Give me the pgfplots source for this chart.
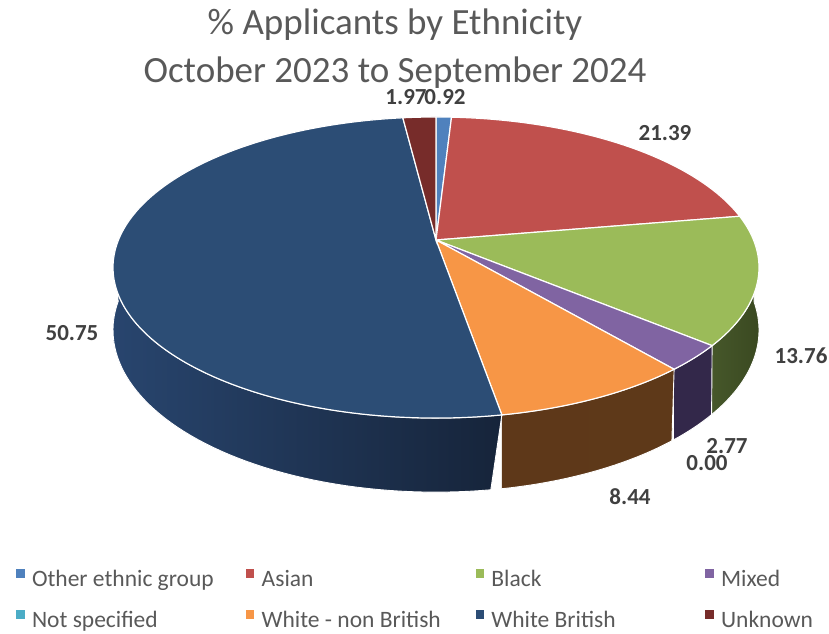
\documentclass[border=0pt]{standalone}
\usepackage{pgfplots}
\usepackage{pgfplotstable}
\pgfplotsset{compat=1.18}
\usepackage{fontspec}
\setmainfont{Carlito}
\definecolor{textgray}{HTML}{595959}
\definecolor{labgray}{HTML}{404040}
\definecolor{cOther}{HTML}{4F81BD}
\definecolor{cAsian}{HTML}{C0504D}
\definecolor{cBlack}{HTML}{9BBB59}
\definecolor{cMixed}{HTML}{8064A2}
\definecolor{cNotSpec}{HTML}{4BACC6}
\definecolor{cWNB}{HTML}{F79646}
\definecolor{cWB}{HTML}{2C4D75}
\definecolor{cUnknown}{HTML}{772C2A}
% darker side colours
\definecolor{rWBl}{HTML}{28456E}
\definecolor{rWBr}{HTML}{16243A}
\definecolor{rWNBl}{HTML}{5E3819}
\definecolor{rWNBm}{HTML}{6C4320}
\definecolor{rWNBr}{HTML}{5E3919}
\definecolor{rMixed}{HTML}{33284A}
\definecolor{rBlackl}{HTML}{46572A}
\definecolor{rBlackr}{HTML}{3A4921}

% percentages, October 2023 to September 2024
\pgfplotstableread{
lab value
Other 0.92
Asian 21.39
Black 13.76
Mixed 2.77
NotSpecified 0.00
WhiteNonBritish 8.44
WhiteBritish 50.75
Unknown 1.97
}\pietable

% cumulative angles (start at 12 o'clock, clockwise)
\xdef\cumsum{0}%
\xdef\aA{90}%
\foreach \i/\n in {0/B,1/C,2/D,3/E,4/F,5/G,6/H,7/I}{%
  \pgfplotstablegetelem{\i}{value}\of\pietable
  \pgfmathsetmacro\tmp{\cumsum+\pgfplotsretval}%
  \xdef\cumsum{\tmp}%
  \pgfmathsetmacro\tmp{90-3.6*\cumsum}%
  \expandafter\xdef\csname a\n\endcsname{\tmp}%
}%

\pgfplotstableread{
x y lab
445 97 0.92
665 133 21.39
801 356 13.76
727 446 2.77
707 463 0.00
630 497 8.44
72 333 50.75
406 97 1.97
}\labtable

\begin{document}
\begin{tikzpicture}
\useasboundingbox (0,0) rectangle (829pt,633pt);
\begin{axis}[
  at={(0,0)}, anchor=south west,
  width=829pt, height=633pt, scale only axis,
  xmin=0, xmax=829, ymin=0, ymax=633, y dir=reverse,
  hide axis, clip=false,
  declare function={
    px(\t)=436+1737*cos(\t)/(5.47+sin(\t));
    py(\t)=240-796*sin(\t)/(5.47+sin(\t));
    pb(\t)=240+(331-796*sin(\t))/(5.47+sin(\t));
    ra(\s,\a,\b)=(\s<1.0001) ? (\a+\s*(\b-\a)) : (\b-(\s-1)*(\b-\a));
  },
  legend columns=4,
  legend cell align=left,
  legend style={draw=none, fill=none, inner sep=0pt,
    at={(0.0192,0.0065)}, anchor=south west,
    font=\fontsize{23.5}{28}\selectfont, text=textgray,
    nodes={inner sep=0pt},
    row sep=22pt,
    /tikz/every odd column/.append style={column sep=8pt}},
  rim/.style={draw=white, line width=0.9pt, domain=0:2, samples=121, forget plot},
  top/.style={draw=white, line width=1.2pt, samples=60, forget plot},
]
% ---- sides (front half only) ----
\addplot[rim, left color=rBlackl, right color=rBlackr]
  ({px(ra(x,\aD,0))},{(x<1.0001) ? py(ra(x,\aD,0)) : pb(ra(x,\aD,0))});
\addplot[rim, fill=rMixed]
  ({px(ra(x,\aE,\aD))},{(x<1.0001) ? py(ra(x,\aE,\aD)) : pb(ra(x,\aE,\aD))});
\addplot[rim, left color=rWNBl, middle color=rWNBm, right color=rWNBr]
  ({px(ra(x,\aG,\aF))},{(x<1.0001) ? py(ra(x,\aG,\aF)) : pb(ra(x,\aG,\aF))});
\addplot[rim, left color=rWBl, right color=rWBr]
  ({px(ra(x,-180,\aG))},{(x<1.0001) ? py(ra(x,-180,\aG)) : pb(ra(x,-180,\aG))});
% ---- top faces ----
\addplot[top, fill=cOther, domain=\aB:\aA] ({px(x)},{py(x)}) -- (axis cs:436,240) -- cycle;
\addplot[top, fill=cAsian, domain=\aC:\aB] ({px(x)},{py(x)}) -- (axis cs:436,240) -- cycle;
\addplot[top, fill=cBlack, domain=\aD:\aC] ({px(x)},{py(x)}) -- (axis cs:436,240) -- cycle;
\addplot[top, fill=cMixed, domain=\aE:\aD] ({px(x)},{py(x)}) -- (axis cs:436,240) -- cycle;
% Not specified = 0.00 : no area
\addplot[top, fill=cWNB, domain=\aG:\aF] ({px(x)},{py(x)}) -- (axis cs:436,240) -- cycle;
\addplot[top, fill=cWB, domain=\aH:\aG, samples=150] ({px(x)},{py(x)}) -- (axis cs:436,240) -- cycle;
\addplot[top, fill=cUnknown, domain=\aI:\aH] ({px(x)},{py(x)}) -- (axis cs:436,240) -- cycle;
% ---- data labels ----
\addplot[draw=none, mark=none, forget plot, nodes near coords, point meta=explicit symbolic,
  nodes near coords style={anchor=center, text=labgray, font=\bfseries\fontsize{23}{28}\selectfont}]
  table[x=x, y=y, meta=lab] {\labtable};
% ---- title ----
\node[anchor=base, text=textgray, font=\fontsize{37}{44}\selectfont] at (axis cs:395,34) {\% Applicants by Ethnicity};
\node[anchor=base, text=textgray, font=\fontsize{37}{44}\selectfont] at (axis cs:395,82) {October 2023 to September 2024};
% ---- legend ----
\addlegendimage{legend image code/.code={\fill[cOther] (0pt,2pt) rectangle (7.5pt,9.5pt);}}
\addlegendentry{\makebox[213.8pt][l]{Other ethnic group}}
\addlegendimage{legend image code/.code={\fill[cAsian] (0pt,2pt) rectangle (7.5pt,9.5pt);}}
\addlegendentry{\makebox[213.8pt][l]{Asian}}
\addlegendimage{legend image code/.code={\fill[cBlack] (0pt,2pt) rectangle (7.5pt,9.5pt);}}
\addlegendentry{\makebox[213.8pt][l]{Black}}
\addlegendimage{legend image code/.code={\fill[cMixed] (0pt,2pt) rectangle (7.5pt,9.5pt);}}
\addlegendentry{\makebox[90pt][l]{Mixed}}
\addlegendimage{legend image code/.code={\fill[cNotSpec] (0pt,2pt) rectangle (7.5pt,9.5pt);}}
\addlegendentry{\makebox[213.8pt][l]{Not specified}}
\addlegendimage{legend image code/.code={\fill[cWNB] (0pt,2pt) rectangle (7.5pt,9.5pt);}}
\addlegendentry{\makebox[213.8pt][l]{White - non British}}
\addlegendimage{legend image code/.code={\fill[cWB] (0pt,2pt) rectangle (7.5pt,9.5pt);}}
\addlegendentry{\makebox[213.8pt][l]{White British}}
\addlegendimage{legend image code/.code={\fill[cUnknown] (0pt,2pt) rectangle (7.5pt,9.5pt);}}
\addlegendentry{\makebox[90pt][l]{Unknown}}
\end{axis}
\end{tikzpicture}
\end{document}
